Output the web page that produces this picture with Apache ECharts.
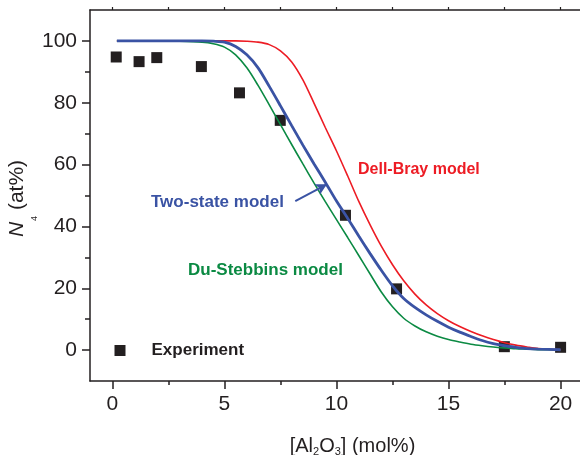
<!DOCTYPE html>
<html>
<head>
<meta charset="utf-8">
<script src="https://cdn.jsdelivr.net/npm/echarts@6/dist/echarts.min.js"></script>
<style>
  html, body { margin: 0; padding: 0; background: #ffffff; }
  #chart { width: 580px; height: 455px; }
</style>
</head>
<body>
<div id="chart"></div>
<script>
// Tick positions
const xTicks = [0, 5, 10, 15, 20];
const xMinorTicks = [2.5, 7.5, 12.5, 17.5];
const xTopTicks = [0, 2.5, 5, 7.5, 10, 12.5, 15, 17.5, 20];
const yTicks = [0, 20, 40, 60, 80, 100];
const yMinorTicks = [10, 30, 50, 70, 90];

// Measured fraction of four-coordinated boron
const expAl2O3 = [0.17, 1.19, 1.98, 3.97, 5.67, 7.49, 10.4, 12.68, 17.49, 20.0];
const expN4    = [94.8, 93.3, 94.6, 91.7, 83.2, 74.3, 43.6, 19.8, 1.1, 0.9];

// Model curves sampled on a common composition grid
const modelAl2O3 = [0.2, 2, 3, 4, 4.5, 5, 5.5, 6, 6.5, 7, 7.5, 8, 8.5, 9, 9.5, 10, 10.5, 11, 11.5, 12,
                    12.5, 13, 13.5, 14, 14.5, 15, 15.5, 16, 16.5, 17, 17.5, 18, 18.5, 19, 20];
const twoStateN4 = [100, 100, 100, 100, 99.9, 99.6, 98.2, 95.5, 91.3, 85.3, 79, 72.6, 66.3, 60.2, 54.3, 48.2, 42.6, 36.8, 31.2, 25.8,
                    20.8, 16.7, 13.8, 11.4, 9.3, 7.4, 5.8, 4.4, 3.1, 2.1, 1.4, 0.9, 0.5, 0.3, 0.1];
const duStebbinsN4 = [100, 100, 99.9, 99.6, 99.1, 98, 95.5, 91.3, 85.6, 79.3, 72.9, 66.5, 60.2, 54, 48, 42.2, 36.4, 30.5, 24.6, 18.8,
                      14, 10.3, 7.8, 5.9, 4.5, 3.4, 2.6, 1.9, 1.4, 1.0, 0.7, 0.45, 0.3, 0.15, 0.05];
const dellBrayN4 = [100, 100, 100, 100, 100, 100, 100, 99.9, 99.6, 98.8, 96.8, 93.2, 87.4, 79.8, 72, 64.4, 56.3, 48, 40.5, 33.6,
                    27.6, 22.4, 18.1, 14.6, 11.8, 9.5, 7.6, 6, 4.6, 3.4, 2.4, 1.6, 1.0, 0.5, 0.1];

// Pointer from the "Two-state model" label to its curve
const arrowFrom = [8.16, 48.2];
const arrowTo = [9.57, 53.6];

const pairs = (xs, ys) => xs.map((x, i) => [x, ys[i]]);

const INK = '#231f20';
const RED = '#ed1c24';
const BLUE = '#3a53a4';
const GREEN = '#0b8a43';
const FONT = 'Liberation Sans, Arial, Helvetica, sans-serif';

const X_MIN = -1, X_MAX = 21, Y_MIN = -10, Y_MAX = 110;

const chart = echarts.init(document.getElementById('chart'), null, { renderer: 'canvas' });

const option = {
  animation: false,
  backgroundColor: '#ffffff',
  textStyle: { fontFamily: FONT },
  grid: { left: 90, right: -3, top: 10, bottom: 74, containLabel: false, outerBoundsMode: 'none' },
  legend: {
    data: ['Experiment'],
    left: 114.5,
    top: 342,
    padding: 0,
    itemWidth: 11,
    itemHeight: 11,
    icon: 'rect',
    selectedMode: false,
    itemStyle: { color: INK, opacity: 1 },
    textStyle: { fontSize: 17, fontWeight: 'bold', color: INK, fontFamily: FONT, padding: [0, 0, 0, 21] }
  },
  xAxis: [
    {
      type: 'value', position: 'bottom', min: X_MIN, max: X_MAX,
      axisLine: { show: true, onZero: false, lineStyle: { color: INK, width: 1.5 } },
      axisTick: { show: true, inside: false, length: 8, customValues: xTicks, lineStyle: { color: INK, width: 1.5 } },
      axisLabel: { show: true, customValues: xTicks, fontSize: 21, color: INK, margin: 13, fontFamily: FONT },
      splitLine: { show: false },
      name: '{t|[Al}{s|2}{t|O}{s|3}{t|] (mol%)}',
      nameLocation: 'middle',
      nameGap: 55,
      nameMoveOverlap: false,
      nameTextStyle: {
        padding: [0, 0, 0, 32],
        rich: {
          t: { fontSize: 20, lineHeight: 23, verticalAlign: 'top', color: INK, fontFamily: FONT },
          s: { fontSize: 11, lineHeight: 11, verticalAlign: 'top', padding: [10, 0, 0, 0], color: INK, fontFamily: FONT }
        }
      }
    },
    {
      type: 'value', position: 'bottom', min: X_MIN, max: X_MAX,
      axisLine: { show: false, onZero: false },
      axisTick: { show: true, inside: false, length: 4, customValues: xMinorTicks, lineStyle: { color: INK, width: 1.5 } },
      axisLabel: { show: false },
      splitLine: { show: false }
    },
    {
      type: 'value', position: 'top', min: X_MIN, max: X_MAX,
      axisLine: { show: true, onZero: false, lineStyle: { color: INK, width: 1.5 } },
      axisTick: { show: true, inside: false, length: 3, customValues: xTopTicks, lineStyle: { color: INK, width: 1.2 } },
      axisLabel: { show: false },
      splitLine: { show: false }
    }
  ],
  yAxis: [
    {
      type: 'value', position: 'left', min: Y_MIN, max: Y_MAX,
      axisLine: { show: true, onZero: false, lineStyle: { color: INK, width: 1.5 } },
      axisTick: { show: true, inside: false, length: 8, customValues: yTicks, lineStyle: { color: INK, width: 1.5 } },
      axisLabel: { show: true, customValues: yTicks, fontSize: 21, color: INK, margin: 13, fontFamily: FONT },
      splitLine: { show: false },
      name: '{n|N}{s|4}{t| (at%)}',
      nameLocation: 'middle',
      nameGap: 59,
      nameMoveOverlap: false,
      nameTextStyle: {
        padding: [0, 6, 0, 0],
        rich: {
          n: { fontSize: 21, fontStyle: 'italic', lineHeight: 24, verticalAlign: 'top', color: INK, fontFamily: FONT },
          s: { fontSize: 9, lineHeight: 9, verticalAlign: 'top', padding: [23, 0, 0, 1], color: INK, fontFamily: FONT },
          t: { fontSize: 21, lineHeight: 24, verticalAlign: 'top', color: INK, fontFamily: FONT }
        }
      }
    },
    {
      type: 'value', position: 'left', min: Y_MIN, max: Y_MAX,
      axisLine: { show: false, onZero: false },
      axisTick: { show: true, inside: false, length: 5, customValues: yMinorTicks, lineStyle: { color: INK, width: 1.5 } },
      axisLabel: { show: false },
      splitLine: { show: false }
    }
  ],
  series: [
    {
      name: 'Experiment',
      type: 'scatter',
      xAxisIndex: 0, yAxisIndex: 0,
      symbol: 'rect',
      symbolSize: 11,
      itemStyle: { color: INK, opacity: 1 },
      data: pairs(expAl2O3, expN4),
      z: 2
    },
    {
      name: 'Du-Stebbins model',
      type: 'line',
      xAxisIndex: 0, yAxisIndex: 0,
      showSymbol: false, symbol: 'none',
      smooth: 0.3,
      lineStyle: { color: GREEN, width: 1.6 },
      data: pairs(modelAl2O3, duStebbinsN4),
      z: 3
    },
    {
      name: 'Dell-Bray model',
      type: 'line',
      xAxisIndex: 0, yAxisIndex: 0,
      showSymbol: false, symbol: 'none',
      smooth: 0.3,
      lineStyle: { color: RED, width: 1.6 },
      data: pairs(modelAl2O3, dellBrayN4),
      z: 3
    },
    {
      name: 'Two-state model',
      type: 'line',
      xAxisIndex: 0, yAxisIndex: 0,
      showSymbol: false, symbol: 'none',
      smooth: 0.3,
      lineStyle: { color: BLUE, width: 2.8 },
      data: pairs(modelAl2O3, twoStateN4),
      z: 4,
      markLine: {
        silent: true,
        animation: false,
        symbol: ['none', 'arrow'],
        symbolSize: [9, 11],
        label: { show: false },
        lineStyle: { color: BLUE, width: 2, type: 'solid' },
        data: [[{ coord: arrowFrom }, { coord: arrowTo }]]
      }
    }
  ],
  graphic: [
    {
      type: 'text', x: 358, y: 170, silent: true,
      style: { text: 'Dell-Bray model', fill: RED, font: 'bold 16px ' + FONT, align: 'left', verticalAlign: 'middle' }
    },
    {
      type: 'text', x: 151, y: 202, silent: true,
      style: { text: 'Two-state model', fill: BLUE, font: 'bold 17px ' + FONT, align: 'left', verticalAlign: 'middle' }
    },
    {
      type: 'text', x: 188, y: 270, silent: true,
      style: { text: 'Du-Stebbins model', fill: GREEN, font: 'bold 17px ' + FONT, align: 'left', verticalAlign: 'middle' }
    }
  ]
};

chart.setOption(option);
</script>
</body>
</html>
